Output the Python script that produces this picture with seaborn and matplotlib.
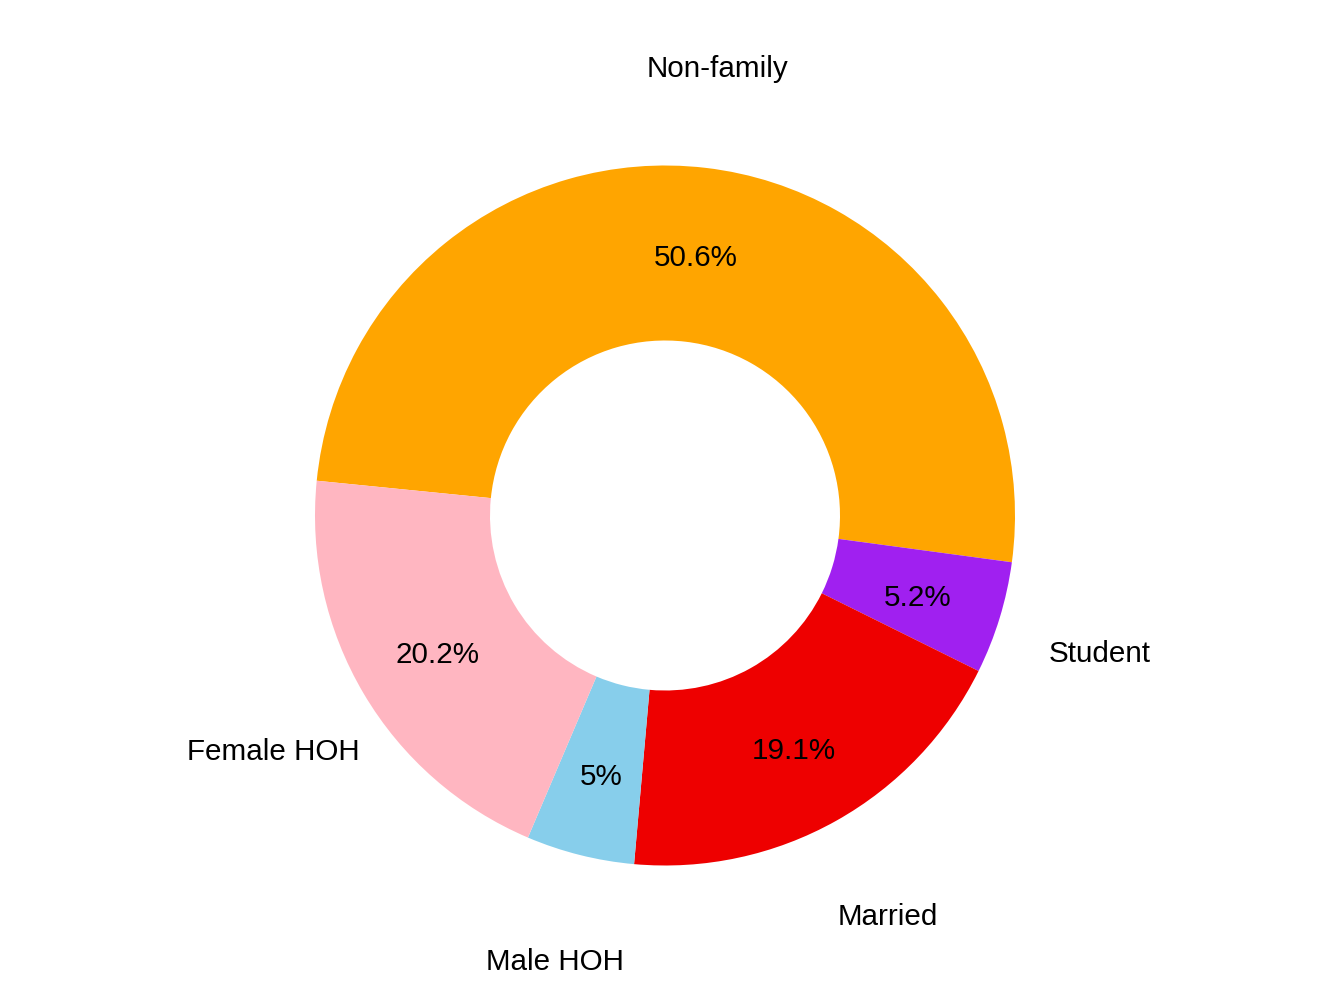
import matplotlib
matplotlib.use("Agg")
import matplotlib.pyplot as plt
import seaborn as sns
import numpy as np

categories = ["Non-family", "Student", "Married", "Male HOH", "Female HOH"]
values = [50.6, 5.2, 19.1, 5.0, 20.2]
pct_labels = ["50.6%", "5.2%", "19.1%", "5%", "20.2%"]
colors = ["#FFA500", "#A020F0", "#EE0000", "#87CEEB", "#FFB6C1"]

sns.set_theme(style="white")
plt.rcParams['font.family'] = ['Liberation Sans', 'DejaVu Sans']

fig = plt.figure(figsize=(13.44, 10.08), dpi=100)
ax = fig.add_axes([0, 0, 1, 1])
wedges, _ = ax.pie(values, colors=colors, startangle=174.3, counterclock=False,
                   radius=1.0, wedgeprops=dict(width=0.5, linewidth=0, edgecolor='none'))

fs = 21.3
dy = -5 / 350
for w, cat, pl in zip(wedges, categories, pct_labels):
    mid = np.deg2rad((w.theta1 + w.theta2) / 2)
    ax.text(0.755 * np.cos(mid), 0.755 * np.sin(mid) + dy, pl, ha='center', va='center',
            fontsize=fs, color='black')
    ax.text(1.3 * np.cos(mid), 1.3 * np.sin(mid) + dy, cat, ha='center', va='center',
            fontsize=fs, color='black')

ax.set_xlim(-665 / 350, (1344 - 665) / 350)
ax.set_ylim(-(1008 - 515.5) / 350, 515.5 / 350)
ax.set_aspect('auto')
ax.axis('off')
fig.savefig("out.png", dpi=100, facecolor='white')
